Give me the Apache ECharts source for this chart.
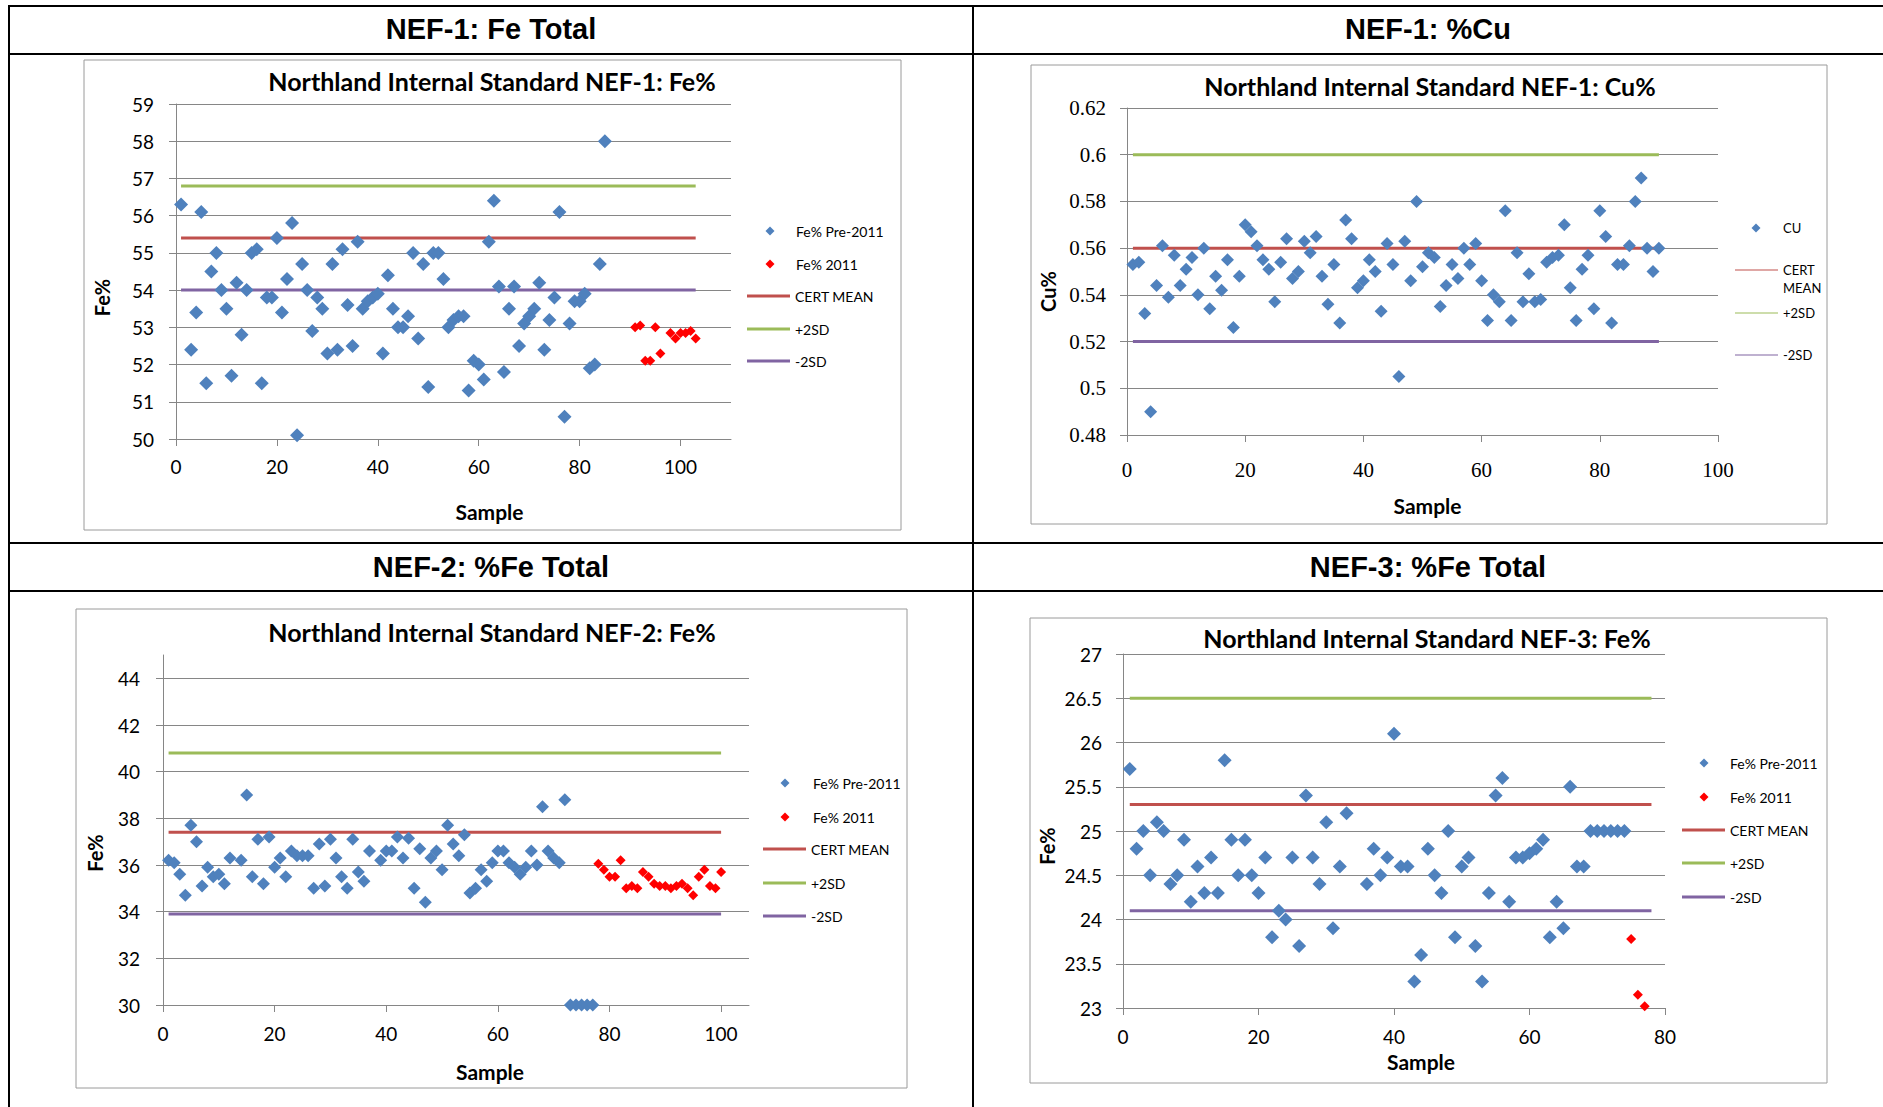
<!DOCTYPE html>
<html>
<head>
<meta charset="utf-8">
<script src="https://cdn.jsdelivr.net/npm/echarts@6/dist/echarts.min.js"></script>
<style>
html,body{margin:0;padding:0;background:#fff;}
#main{width:1883px;height:1107px;}
</style>
</head>
<body>
<div id="main"></div>
<script>
// ---------------- DATA ----------------
// NEF-1 Fe% (samples start at 1; 2011 samples start at 91)
const nef1PreStart = 1;
const nef1PreValues = [56.3, null, 52.4, 53.4, 56.1, 51.5, 54.5, 55.0, 54.0, 53.5,
  51.7, 54.2, 52.8, 54.0, 55.0, 55.1, 51.5, 53.8, 53.8, 55.4,
  53.4, 54.3, 55.8, 50.1, 54.7, 54.0, 52.9, 53.8, 53.5, 52.3,
  54.7, 52.4, 55.1, 53.6, 52.5, 55.3, 53.5, 53.7, 53.8, 53.9,
  52.3, 54.4, 53.5, 53.0, 53.0, 53.3, 55.0, 52.7, 54.7, 51.4,
  55.0, 55.0, 54.3, 53.0, 53.2, 53.3, 53.3, 51.3, 52.1, 52.0,
  51.6, 55.3, 56.4, 54.1, 51.8, 53.5, 54.1, 52.5, 53.1, 53.3,
  53.5, 54.2, 52.4, 53.2, 53.8, 56.1, 50.6, 53.1, 53.7, 53.7,
  53.9, 51.9, 52.0, 54.7, 58.0];
const nef1NewStart = 91;
const nef1NewValues = [53.0, 53.05, 52.1, 52.1, 53.0, 52.3, null, 52.85, 52.7, 52.85, 52.85, 52.9, 52.7];
const nef1Cert = 55.4, nef1Plus = 56.8, nef1Minus = 54.0;
const nef1LineRange = [1, 103];

// NEF-1 Cu%
const cuStart = 1;
const cuValues = [0.553, 0.554, 0.532, 0.490, 0.544, 0.561, 0.539, 0.557, 0.544, 0.551,
  0.556, 0.540, 0.560, 0.534, 0.548, 0.542, 0.555, 0.526, 0.548, 0.570,
  0.567, 0.561, 0.555, 0.551, 0.537, 0.554, 0.564, 0.547, 0.550, 0.563,
  0.558, 0.565, 0.548, 0.536, 0.553, 0.528, 0.572, 0.564, 0.543, 0.546,
  0.555, 0.550, 0.533, 0.562, 0.553, 0.505, 0.563, 0.546, 0.580, 0.552,
  0.558, 0.556, 0.535, 0.544, 0.553, 0.547, 0.560, 0.553, 0.562, 0.546,
  0.529, 0.540, 0.537, 0.576, 0.529, 0.558, 0.537, 0.549, 0.537, 0.538,
  0.554, 0.556, 0.557, 0.570, 0.543, 0.529, 0.551, 0.557, 0.534, 0.576,
  0.565, 0.528, 0.553, 0.553, 0.561, 0.580, 0.590, 0.560, 0.550, 0.560];
const cuCert = 0.56, cuPlus = 0.60, cuMinus = 0.52;
const cuLineRange = [1, 90];

// NEF-2 Fe%
const nef2PreStart = 1;
const nef2PreValues = [36.2, 36.1, 35.6, 34.7, 37.7, 37.0, 35.1, 35.9, 35.5, 35.6,
  35.2, 36.3, null, 36.2, 39.0, 35.5, 37.1, 35.2, 37.2, 35.9,
  36.3, 35.5, 36.6, 36.4, 36.4, 36.4, 35.0, 36.9, 35.1, 37.1,
  36.3, 35.5, 35.0, 37.1, 35.7, 35.3, 36.6, null, 36.2, 36.6,
  36.6, 37.2, 36.3, 37.15, 35.0, 36.7, 34.4, 36.3, 36.6, 35.8,
  37.7, 36.9, 36.4, 37.3, 34.8, 35.0, 35.8, 35.3, 36.1, 36.6,
  36.6, 36.1, 35.9, 35.6, 35.9, 36.6, 36.0, 38.5, 36.6, 36.3,
  36.1, 38.8, 30, 30, 30, 30, 30];
const nef2NewStart = 78;
const nef2NewValues = [36.05, 35.8, 35.5, 35.5, 36.2, 35.0, 35.1, 35.0, 35.7, 35.5,
  35.2, 35.1, 35.1, 35.0, 35.1, 35.2, 35.0, 34.7, 35.5, 35.8, 35.1, 35.0, 35.7];
const nef2Cert = 37.4, nef2Plus = 40.8, nef2Minus = 33.9;
const nef2LineRange = [1, 100];

// NEF-3 Fe%
const nef3PreStart = 1;
const nef3PreValues = [25.7, 24.8, 25.0, 24.5, 25.1, 25.0, 24.4, 24.5, 24.9, 24.2,
  24.6, 24.3, 24.7, 24.3, 25.8, 24.9, 24.5, 24.9, 24.5, 24.3,
  24.7, 23.8, 24.1, 24.0, 24.7, 23.7, 25.4, 24.7, 24.4, 25.1,
  23.9, 24.6, 25.2, null, null, 24.4, 24.8, 24.5, 24.7, 26.1,
  24.6, 24.6, 23.3, 23.6, 24.8, 24.5, 24.3, 25.0, 23.8, 24.6,
  24.7, 23.7, 23.3, 24.3, 25.4, 25.6, 24.2, 24.7, 24.7, 24.75,
  24.8, 24.9, 23.8, 24.2, 23.9, 25.5, 24.6, 24.6, 25.0, 25.0,
  25.0, 25.0, 25.0, 25.0];
const nef3NewStart = 75;
const nef3NewValues = [23.78, 23.15, 23.02];
const nef3Cert = 25.3, nef3Plus = 26.5, nef3Minus = 24.1;
const nef3LineRange = [1, 78];

// Text
const headers = ['NEF-1: Fe Total', 'NEF-1: %Cu', 'NEF-2: %Fe Total', 'NEF-3: %Fe Total'];
const chartTitles = ['Northland Internal Standard NEF-1: Fe%', 'Northland Internal Standard NEF-1: Cu%',
  'Northland Internal Standard NEF-2: Fe%', 'Northland Internal Standard NEF-3: Fe%'];

// ---------------- STYLE ----------------
const BLUE = '#4F81BD', RED = '#FF0000', CERT = '#C0504D', PLUS = '#9BBB59', MINUS = '#8064A2';
const SANS = 'Lato, "Open Sans", sans-serif';
const SERIF = '"Liberation Serif", "DejaVu Serif", serif';
const AXIS_GRAY = '#868686';

function pts(start, values) {
  const out = [];
  values.forEach((v, i) => { if (v !== null) out.push([start + i, v]); });
  return out;
}
function scatter(name, idx, start, values, color, size) {
  return { type: 'scatter', name, xAxisIndex: idx, yAxisIndex: idx, symbol: 'diamond',
    symbolSize: size, itemStyle: { color, opacity: 1 }, data: pts(start, values), z: 3 };
}
function refLine(name, idx, range, value, color) {
  return { type: 'line', name, xAxisIndex: idx, yAxisIndex: idx, symbol: 'none',
    lineStyle: { color, width: 3 }, itemStyle: { color }, silent: true,
    data: [[range[0], value], [range[1], value]], z: 2 };
}
function xAx(idx, max, o) {
  return { gridIndex: idx, type: 'value', min: 0, max, interval: 20,
    axisLine: { show: true, lineStyle: { color: AXIS_GRAY } },
    axisTick: { show: true, length: 7, lineStyle: { color: AXIS_GRAY } },
    splitLine: { show: false },
    axisLabel: { showMaxLabel: o.showMax, margin: o.margin, fontSize: o.fontSize, fontFamily: o.font, color: '#000' },
    name: 'Sample', nameLocation: 'middle', nameGap: o.nameGap,
    nameTextStyle: { fontFamily: SANS, fontWeight: 'bold', fontSize: 21, color: '#000', padding: o.namePad } };
}
function yAx(idx, min, max, interval, name, o) {
  return { gridIndex: idx, type: 'value', min, max, interval,
    axisLine: { show: true, lineStyle: { color: AXIS_GRAY } },
    axisTick: { show: true, length: 7, lineStyle: { color: AXIS_GRAY } },
    splitLine: { show: true, showMaxLine: o.showMaxLine !== false, lineStyle: { color: '#868686', width: 1 } },
    axisLabel: { showMaxLabel: o.showMax !== false, margin: o.margin, fontSize: o.fontSize, fontFamily: o.font, color: '#000' },
    name, nameLocation: 'middle', nameRotate: 90, nameGap: o.nameGap,
    nameTextStyle: { fontFamily: SANS, fontWeight: 'bold', fontSize: 20, color: '#000', padding: o.namePad } };
}
// legend for a scatter series: small diamond centred at cx, text starting at textX
function legMark(name, cx, textX, yCenter, fs) {
  fs = fs || 14;
  const size = 9;
  const left = cx - size / 2;
  return { data: [name], left, top: yCenter - fs / 2, orient: 'vertical', padding: 0,
    icon: 'diamond', itemWidth: size, itemHeight: size, itemGap: 0,
    textStyle: { fontFamily: SANS, fontSize: fs, color: '#000', padding: [0, 0, 0, textX - (left + size + 5)] } };
}
// legend for a reference line: bar icon from iconLeft, 43 px long
function legLine(name, iconLeft, yCenter, fs, thick, wrap) {
  fs = fs || 14;
  const l = { data: [name], left: iconLeft, top: yCenter - fs / 2, orient: 'vertical', padding: 0,
    icon: 'rect', itemWidth: 43, itemHeight: thick, itemGap: 0,
    textStyle: { fontFamily: SANS, fontSize: fs, color: '#000' } };
  if (wrap) {
    l.formatter = n => ' \n' + n.replace(' ', '\n');
    l.textStyle.lineHeight = 18;
    l.top = yCenter - 27;
  }
  return l;
}
function hLine(x1, y1, x2, y2) {
  return { type: 'line', shape: { x1, y1, x2, y2 }, style: { stroke: '#000', lineWidth: 2 }, silent: true };
}
function box(x, y, w, h) {
  return { type: 'rect', shape: { x, y, width: w, height: h }, style: { fill: 'none', stroke: '#9a9a9a', lineWidth: 1 }, silent: true, z: -1 };
}
function txt(text, x, y, font) {
  return { type: 'text', x, y, silent: true,
    style: { text, font, fill: '#000', textAlign: 'center', textVerticalAlign: 'middle', align: 'center', verticalAlign: 'middle' } };
}

const chart = echarts.init(document.getElementById('main'), null, { renderer: 'svg' });
const HEAD_FONT = 'bold 29px "Liberation Sans", Arial, sans-serif';
const TITLE_FONT = 'bold 25px ' + SANS;

const option = {
  animation: false,
  backgroundColor: '#fff',
  grid: [
    { left: 176, top: 104, width: 555, height: 335 },
    { left: 1127, top: 108, width: 591, height: 327 },
    { left: 163, top: 655, width: 586, height: 350 },
    { left: 1123, top: 654, width: 542, height: 354 }
  ],
  xAxis: [
    xAx(0, 110, { showMax: false, margin: 18, fontSize: 19, font: SANS, nameGap: 62, namePad: [0, 0, 0, 72] }),
    xAx(1, 100, { showMax: true, margin: 24, fontSize: 21, font: SERIF, nameGap: 60, namePad: [0, 0, 0, 10] }),
    xAx(2, 105, { showMax: false, margin: 19, fontSize: 19, font: SANS, nameGap: 56, namePad: [0, 0, 0, 68] }),
    xAx(3, 80, { showMax: true, margin: 19, fontSize: 19, font: SANS, nameGap: 43, namePad: [0, 0, 0, 54] })
  ],
  yAxis: [
    yAx(0, 50, 59, 1, 'Fe%', { margin: 22, fontSize: 19, font: SANS, nameGap: 64, namePad: [0, 52, 0, 0] }),
    yAx(1, 0.48, 0.62, 0.02, 'Cu%', { margin: 21, fontSize: 21, font: SERIF, nameGap: 69, namePad: [0, 40, 0, 0] }),
    yAx(2, 30, 45, 2, 'Fe%', { margin: 23, fontSize: 19, font: SANS, nameGap: 58, namePad: [0, 46, 0, 0], showMax: false, showMaxLine: false }),
    yAx(3, 23, 27, 0.5, 'Fe%', { margin: 21, fontSize: 19, font: SANS, nameGap: 66, namePad: [0, 30, 0, 0] })
  ],
  legend: [
    legMark('Fe% Pre-2011', 770, 796, 231), legMark('Fe% 2011', 770, 796, 264),
    legLine('CERT MEAN', 747, 296, 14, 3), legLine('+2SD', 747, 329, 14, 3), legLine('-2SD', 747, 361, 14, 3),

    legMark('CU', 1756, 1783, 228, 13),
    legLine('CERT MEAN', 1735, 270, 13, 1, true), legLine('+2SD', 1735, 313, 13, 1), legLine('-2SD', 1735, 355, 13, 1),

    legMark('Fe% Pre-2011', 785, 813, 783), legMark('Fe% 2011', 785, 813, 817),
    legLine('CERT MEAN', 763, 849, 14, 3), legLine('+2SD', 763, 883, 14, 3), legLine('-2SD', 763, 916, 14, 3),

    legMark('Fe% Pre-2011', 1704, 1730, 763), legMark('Fe% 2011', 1704, 1730, 797),
    legLine('CERT MEAN', 1682, 830, 14, 3), legLine('+2SD', 1682, 863, 14, 3), legLine('-2SD', 1682, 897, 14, 3)
  ],
  graphic: [
    hLine(9, 6, 1883, 6), hLine(9, 5, 9, 1107), hLine(973, 5, 973, 1107),
    hLine(9, 54, 1883, 54), hLine(9, 543, 1883, 543), hLine(9, 591, 1883, 591),
    txt(headers[0], 491, 29, HEAD_FONT), txt(headers[1], 1428, 29, HEAD_FONT),
    txt(headers[2], 491, 567, HEAD_FONT), txt(headers[3], 1428, 567, HEAD_FONT),
    box(84, 60, 817, 470), box(1031, 65, 796, 459), box(76, 609, 831, 479), box(1030, 618, 797, 465),
    txt(chartTitles[0], 492, 81, TITLE_FONT), txt(chartTitles[1], 1430, 86, TITLE_FONT),
    txt(chartTitles[2], 492, 632, TITLE_FONT), txt(chartTitles[3], 1427, 638, TITLE_FONT)
  ],
  series: [
    scatter('Fe% Pre-2011', 0, nef1PreStart, nef1PreValues, BLUE, 14),
    scatter('Fe% 2011', 0, nef1NewStart, nef1NewValues, RED, 10),
    refLine('CERT MEAN', 0, nef1LineRange, nef1Cert, CERT),
    refLine('+2SD', 0, nef1LineRange, nef1Plus, PLUS),
    refLine('-2SD', 0, nef1LineRange, nef1Minus, MINUS),

    scatter('CU', 1, cuStart, cuValues, BLUE, 13),
    refLine('CERT MEAN', 1, cuLineRange, cuCert, CERT),
    refLine('+2SD', 1, cuLineRange, cuPlus, PLUS),
    refLine('-2SD', 1, cuLineRange, cuMinus, MINUS),

    scatter('Fe% Pre-2011', 2, nef2PreStart, nef2PreValues, BLUE, 13),
    scatter('Fe% 2011', 2, nef2NewStart, nef2NewValues, RED, 10),
    refLine('CERT MEAN', 2, nef2LineRange, nef2Cert, CERT),
    refLine('+2SD', 2, nef2LineRange, nef2Plus, PLUS),
    refLine('-2SD', 2, nef2LineRange, nef2Minus, MINUS),

    scatter('Fe% Pre-2011', 3, nef3PreStart, nef3PreValues, BLUE, 14),
    scatter('Fe% 2011', 3, nef3NewStart, nef3NewValues, RED, 10),
    refLine('CERT MEAN', 3, nef3LineRange, nef3Cert, CERT),
    refLine('+2SD', 3, nef3LineRange, nef3Plus, PLUS),
    refLine('-2SD', 3, nef3LineRange, nef3Minus, MINUS)
  ]
};
chart.setOption(option);
</script>
</body>
</html>
